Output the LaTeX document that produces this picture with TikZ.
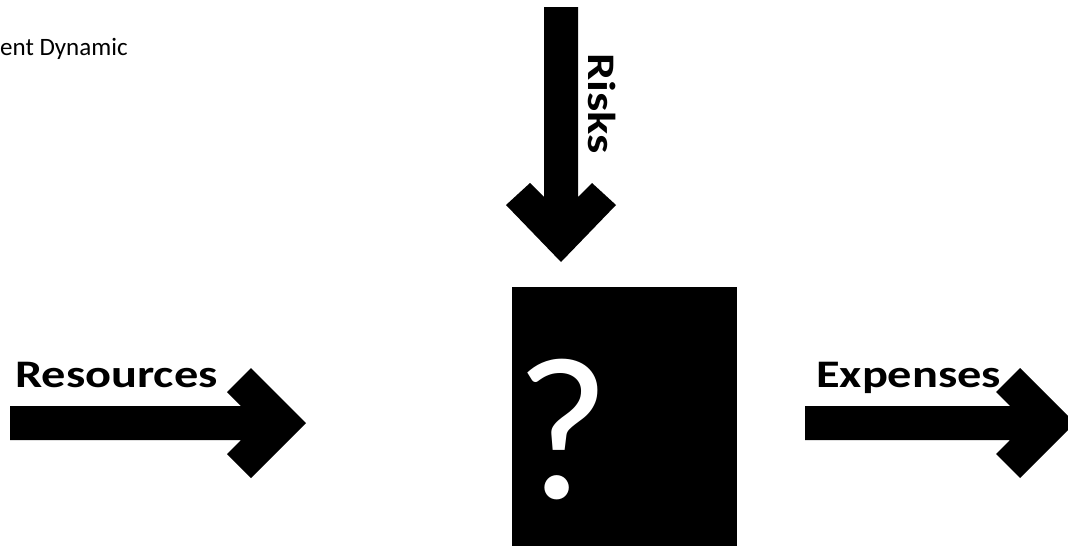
\documentclass[tikz,border=0pt]{standalone}
\usepackage{fontspec}
\setmainfont{Carlito}
\newfontfamily\widefont[FakeStretch=1.24]{Carlito}
\begin{document}
\begin{tikzpicture}[x=1pt,y=-1pt,
  blk/.style={fill=black,draw=none},
  biglabel/.style={inner sep=0pt,font=\widefont\bfseries\fontsize{39}{39}\selectfont},
  qmark/.style={inner sep=0pt,text depth=0pt,text=white,font=\fontsize{204}{204}\selectfont}]
\useasboundingbox (0,0) rectangle (1068,546);
\clip (0,0) rectangle (1068,546);
% black box
\fill[blk] (512,287) rectangle (737,560);
\node[qmark,anchor=base] (q) at (563,498) {?};
% named tips
\coordinate (tipR) at (306,423);
\coordinate (tipE) at (1075,423);
\coordinate (tipK) at (561,262);
% Resources arrow
\fill[blk,shift={(tipR)}] (-296,-17) -- (-65,-17) -- (-79,-31) -- (-55,-55) -- (0,0) -- (-55,55) -- (-79,31) -- (-65,17) -- (-296,17) -- cycle;
% Expenses arrow
\fill[blk,shift={(tipE)}] (-270,-17) -- (-65,-17) -- (-79,-31) -- (-55,-55) -- (0,0) -- (-55,55) -- (-79,31) -- (-65,17) -- (-270,17) -- cycle;
% Risks arrow
\fill[blk,shift={(tipK)}] (-17,-255) -- (-17,-65) -- (-31,-79) -- (-55,-57) -- (0,0) -- (55,-57) -- (31,-79) -- (17,-65) -- (17,-255) -- cycle;
% labels
\node[biglabel,anchor=base west] (res) at (15,387) {Resources};
\node[biglabel,anchor=base west] (exp) at (816,387) {Expenses};
\node[biglabel,anchor=base west,rotate=-90] (risk) at (588,53) {Risks};
\node[inner sep=0pt,anchor=base west,font=\fontsize{25}{25}\selectfont] (dyn) at (0,55) {ent Dynamic};
\end{tikzpicture}
\end{document}
